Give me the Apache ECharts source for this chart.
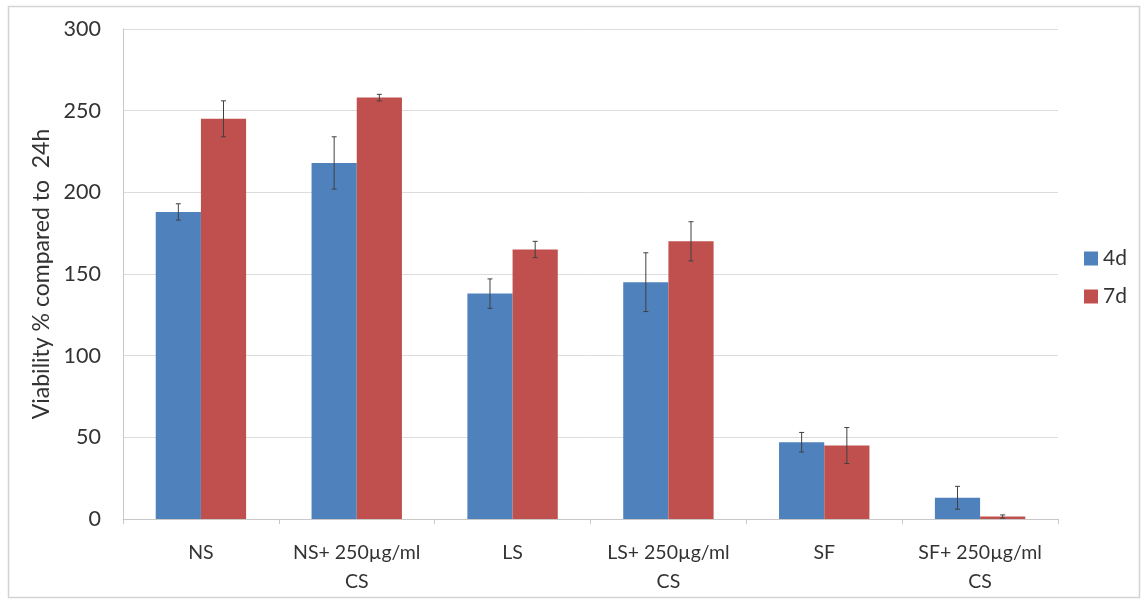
<!DOCTYPE html>
<html>
<head>
<meta charset="utf-8">
<script src="https://cdn.jsdelivr.net/npm/echarts@6/dist/echarts.min.js"></script>
<style>
html,body{margin:0;padding:0;background:#fff;}
#chart{width:1143px;height:601px;}
</style>
</head>
<body>
<div id="chart"></div>
<script>
const categories = ['NS', 'NS+ 250µg/ml\nCS', 'LS', 'LS+ 250µg/ml\nCS', 'SF', 'SF+ 250µg/ml\nCS'];
const seriesNames = ['4d', '7d'];
const values4d = [188, 218, 138, 145, 47, 13];
const values7d = [245, 258, 165, 170, 45, 1.5];
const err4d = [5, 16, 9, 18, 6, 7];
const err7d = [11, 2, 5, 12, 11, 1];
const yTicks = [0, 50, 100, 150, 200, 250, 300];

const FONT = 'Lato, "Open Sans", sans-serif';
const colors = ['#4f81bd', '#c0504d'];
const BAR_PCT = 0.29;

function errSeries(vals, errs, sign) {
  return {
    type: 'custom',
    silent: true,
    z: 10,
    data: vals.map((v, i) => [i, v, errs[i]]),
    renderItem: function (params, api) {
      const i = api.value(0), v = api.value(1), e = api.value(2);
      const band = api.size([1, 0])[0];
      const off = sign * band * BAR_PCT / 2;
      const top = api.coord([i, v + e]);
      const bot = api.coord([i, v - e]);
      const x = top[0] + off;
      const cap = 2.5;
      const style = { stroke: '#404040', lineWidth: 1 };
      return {
        type: 'group',
        children: [
          { type: 'line', shape: { x1: x, y1: top[1], x2: x, y2: bot[1] }, style: style },
          { type: 'line', shape: { x1: x - cap, y1: top[1], x2: x + cap, y2: top[1] }, style: style },
          { type: 'line', shape: { x1: x - cap, y1: bot[1], x2: x + cap, y2: bot[1] }, style: style }
        ]
      };
    }
  };
}

const chart = echarts.init(document.getElementById('chart'));
chart.setOption({
  animation: false,
  backgroundColor: '#ffffff',
  textStyle: { fontFamily: FONT },
  graphic: [{
    type: 'rect',
    shape: { x: 8.5, y: 6.5, width: 1131, height: 591 },
    style: { fill: 'none', stroke: '#d4d4d4', lineWidth: 1.5 },
    silent: true
  }],
  grid: { left: 123, right: 85, top: 29, bottom: 82 },
  legend: {
    orient: 'vertical',
    left: 1079,
    top: 243,
    itemWidth: 14,
    itemHeight: 14,
    itemGap: 17,
    icon: 'rect',
    data: seriesNames,
    textStyle: { fontSize: 21, color: '#333', fontFamily: FONT }
  },
  xAxis: {
    type: 'category',
    data: categories,
    axisLine: { show: true, lineStyle: { color: '#c8c8c8', width: 1 } },
    axisTick: { show: true, interval: 0, length: 5, lineStyle: { color: '#c8c8c8' } },
    axisLabel: { interval: 0, hideOverlap: false, fontSize: 19.5, color: '#333', margin: 19, lineHeight: 29, fontFamily: FONT }
  },
  yAxis: {
    type: 'value',
    min: yTicks[0],
    max: yTicks[yTicks.length - 1],
    interval: 50,
    name: 'Viability % compared to  24h',
    nameLocation: 'middle',
    nameGap: 67,
    nameTextStyle: { fontSize: 23, color: '#333', fontFamily: FONT },
    axisLine: { show: true, lineStyle: { color: '#c8c8c8', width: 1 } },
    axisTick: { show: false },
    axisLabel: { fontSize: 21.5, color: '#333', margin: 22, fontFamily: FONT },
    splitLine: { lineStyle: { color: '#dcdcdc', width: 1 } }
  },
  series: [
    {
      name: seriesNames[0], type: 'bar', data: values4d,
      barWidth: (BAR_PCT * 100) + '%', barGap: '0%',
      itemStyle: { color: colors[0] }
    },
    {
      name: seriesNames[1], type: 'bar', data: values7d,
      barWidth: (BAR_PCT * 100) + '%', barGap: '0%',
      itemStyle: { color: colors[1] }
    },
    errSeries(values4d, err4d, -1),
    errSeries(values7d, err7d, 1)
  ]
});
</script>
</body>
</html>
